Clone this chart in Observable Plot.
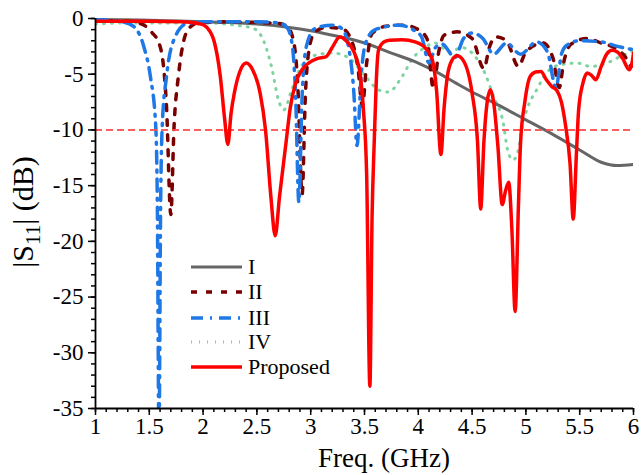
<!DOCTYPE html>
<html><head><meta charset="utf-8">
<script src="https://cdn.jsdelivr.net/npm/d3@7"></script>
<script src="https://cdn.jsdelivr.net/npm/@observablehq/plot@0.6"></script>
<style>
html,body{margin:0;padding:0;background:#fff;}
#wrap{position:relative;width:641px;height:475px;font-family:"Liberation Serif","Times New Roman",serif;}
#legend{position:absolute;left:186px;top:254px;}
</style></head>
<body><div id="wrap"><div id="chart"></div><svg id="legend" width="170" height="126"></svg></div>
<script>
// ---- data ----
const seriesNames = ["I","II","III","IV","Proposed"];

const freqI = [1,1.5,2,2.5,2.8,3,3.25,3.5,3.75,4,4.15,4.35,4.5,4.75,5,5.25,5.5,5.7,5.85,6];
const s11I  = [-0.1,-0.15,-0.3,-0.5,-0.8,-1.1,-1.6,-2.2,-3.1,-4.0,-4.7,-5.8,-6.6,-7.8,-9.1,-10.4,-11.8,-12.9,-13.2,-13.1];

const freqII = [1,1.3,1.43,1.52,1.6,1.66,1.7,1.73,1.77,1.82,1.86,1.95,2.2,2.5,2.7,2.78,2.84,2.88,2.92,2.95,2.99,3.04,3.15,3.29,3.38,3.44,3.48,3.52,3.57,3.7,3.86,4.0,4.08,4.14,4.19,4.24,4.36,4.5,4.61,4.66,4.72,4.82,4.93,5.0,5.16,5.25,5.31,5.35,5.42,5.57,5.7,5.82,5.92,5.98,6];
const s11II  = [-0.2,-0.25,-0.5,-1.2,-2.5,-7.9,-17.6,-9.7,-5.2,-2,-1.0,-0.4,-0.3,-0.35,-0.45,-0.7,-2,-6,-15.8,-7,-2.5,-1.2,-0.8,-0.9,-2,-4.5,-7.9,-4,-1.35,-0.7,-0.6,-1.0,-1.8,-6.3,-3,-1.5,-1.2,-1.8,-4.5,-2.6,-1.65,-2,-4.3,-3.0,-2.2,-3.5,-6.2,-4.0,-2.3,-1.8,-2.2,-2.6,-3.4,-4.3,-4.0];

const freqIII = [1,1.25,1.36,1.45,1.51,1.56,1.575,1.59,1.605,1.62,1.66,1.74,1.85,2,2.5,2.7,2.78,2.83,2.86,2.89,2.92,2.96,3.04,3.2,3.29,3.36,3.4,3.43,3.47,3.51,3.6,3.82,3.95,4.03,4.1,4.16,4.22,4.34,4.42,4.5,4.6,4.7,4.82,4.95,5.1,5.2,5.28,5.33,5.38,5.5,5.7,5.85,6];
const s11III  = [-0.1,-0.3,-0.75,-2.55,-5.2,-9.7,-17,-38,-17,-9.7,-5.2,-1.65,-0.45,-0.3,-0.3,-0.4,-0.8,-2.5,-7,-16.5,-7,-2.5,-0.9,-0.6,-0.9,-3,-6.5,-11.4,-5,-2.2,-1.0,-0.6,-1.0,-1.65,-4.0,-2.6,-2.3,-3.5,-1.8,-1.3,-1.8,-3.2,-2.2,-3.2,-2.1,-3.0,-6.2,-3.2,-2.4,-2.0,-2.1,-2.5,-2.8];

const freqIV = [1,1.3,1.6,2,2.3,2.47,2.56,2.64,2.7,2.75,2.82,2.9,3.04,3.2,3.35,3.51,3.63,3.72,3.85,3.94,4.07,4.15,4.3,4.4,4.5,4.6,4.7,4.79,4.83,4.88,4.93,4.96,5.02,5.1,5.19,5.3,5.48,5.6,5.75,5.9,6];
const s11IV  = [-0.5,-0.4,-0.4,-0.4,-0.6,-0.9,-1.95,-4.5,-7.3,-8.2,-6.5,-4.5,-3.3,-3.1,-3.5,-5.2,-6.4,-6.6,-5.2,-3.7,-2.55,-2.2,-3.0,-2.6,-3.1,-4.5,-7.0,-9.4,-11.8,-12.7,-11.8,-10,-7.9,-6.4,-4.9,-4.2,-4.0,-4.3,-4.0,-3.3,-2.9];

const freqP = [1,1.5,1.8,1.95,2.01,2.06,2.1,2.16,2.2,2.23,2.26,2.29,2.34,2.4,2.46,2.53,2.58,2.63,2.67,2.71,2.77,2.81,2.86,2.92,2.98,3.06,3.14,3.2,3.27,3.33,3.42,3.46,3.49,3.52,3.55,3.57,3.59,3.61,3.63,3.68,3.73,3.85,3.97,4.07,4.13,4.17,4.21,4.24,4.27,4.31,4.36,4.42,4.5,4.55,4.58,4.61,4.64,4.67,4.7,4.74,4.78,4.81,4.84,4.87,4.9,4.93,4.95,4.99,5.04,5.09,5.14,5.19,5.24,5.29,5.33,5.37,5.41,5.44,5.47,5.49,5.53,5.57,5.61,5.65,5.7,5.75,5.8,5.85,5.9,5.96,5.99,6];
const s11P  = [-0.25,-0.25,-0.3,-0.45,-0.6,-1.1,-1.95,-5.2,-9,-11.3,-8.5,-6.7,-4.8,-4.0,-4.6,-6.7,-10,-16,-19.5,-16,-11.2,-8,-5.8,-4.6,-4.0,-3.6,-3.45,-2.6,-1.65,-2,-3.45,-5,-8.2,-14,-33,-18,-11.2,-5.5,-2.85,-2.1,-1.95,-1.9,-2.1,-2.7,-3.7,-6.5,-12.2,-8,-5.2,-3.8,-3.35,-3.8,-6.7,-11,-17.1,-11,-7.5,-6.4,-7.5,-11.5,-16.7,-15.5,-14.7,-19,-26.3,-17,-11.2,-7.5,-5.2,-4.8,-4.75,-5.5,-6.1,-6.5,-7.5,-9.7,-13,-18,-12,-8.2,-5.8,-4.9,-5.1,-5.5,-4.3,-3.2,-2.85,-3.0,-3.6,-4.6,-3.8,-3.1];

const refLevel = [-10];
const xMajor = [1,1.5,2,2.5,3,3.5,4,4.5,5,5.5,6];
const xTickLabels = ["1","1.5","2","2.5","3","3.5","4","4.5","5","5.5","6"];
const yMajor = [0,-5,-10,-15,-20,-25,-30,-35];
const yTickLabels = ["0","-5","-10","-15","-20","-25","-30","-35"];
const xMinor = d3.range(10,61).map(v => v/10);
const yMinor = d3.range(-35,1);

// ---- styles ----
const styles = {
  "I":        {stroke:"#666666", width:3,   dash:null},
  "II":       {stroke:"#7a0000", width:3.5, dash:"6,9"},
  "III":      {stroke:"#1e78e6", width:3.5, dash:"12,7,2,7"},
  "IV":       {stroke:"#7fd3a0", width:3,   dash:"1,7"},
  "Proposed": {stroke:"#ff0000", width:3.5, dash:null}
};
const rows = (fx, fy) => fx.map((f,i) => ({f, v: fy[i]}));
const sets = {
  "I": rows(freqI, s11I), "II": rows(freqII, s11II), "III": rows(freqIII, s11III),
  "IV": rows(freqIV, s11IV), "Proposed": rows(freqP, s11P)
};
const lineMark = name => Plot.line(sets[name], {
  x:"f", y:"v", stroke: styles[name].stroke, strokeWidth: styles[name].width,
  strokeDasharray: styles[name].dash, curve:"monotone-x", clip:true
});

const chart = Plot.plot({
  width:641, height:475,
  marginLeft:95, marginRight:8, marginTop:18, marginBottom:67,
  style:{fontFamily:'"Liberation Serif","Times New Roman",serif', fontSize:"23px", color:"#000", background:"#fff", overflow:"visible"},
  x:{domain:[1,6]},
  y:{domain:[-35,0]},
  marks:[
    lineMark("IV"),
    lineMark("I"),
    lineMark("II"),
    lineMark("III"),
    Plot.ruleY(refLevel, {stroke:"#ff4d4d", strokeWidth:2, strokeDasharray:"7,4", strokeOpacity:0.9}),
    lineMark("Proposed"),
    Plot.axisX(xMinor, {tickSize:4, tickFormat:() => "", label:null, strokeWidth:1.5}),
    Plot.axisX(xMajor, {tickSize:7, tickPadding:2, tickFormat: d => xTickLabels[xMajor.indexOf(d)], label:null, strokeWidth:1.5, fontSize:23}),
    Plot.axisY(yMinor, {tickSize:4, tickFormat:() => "", label:null, strokeWidth:1.5}),
    Plot.axisY(yMajor, {tickSize:7, tickPadding:5, tickFormat: d => yTickLabels[yMajor.indexOf(d)], label:null, strokeWidth:1.5, fontSize:23}),
    Plot.ruleX([1], {stroke:"#000", strokeWidth:1.8}),
    Plot.ruleY([-35], {stroke:"#000", strokeWidth:1.8})
  ]
});
document.getElementById("chart").appendChild(chart);

// axis titles
const svg = d3.select(chart);
svg.append("text").attr("x", 384).attr("y", 467).attr("text-anchor","middle")
  .attr("font-size", 27).attr("fill","#000").text("Freq. (GHz)");
const yl = svg.append("text").attr("transform","translate(33,212) rotate(-90)")
  .attr("text-anchor","middle").attr("font-size",30).attr("fill","#000");
yl.append("tspan").text("|S");
yl.append("tspan").attr("font-size",21).attr("dy",7).text("11");
yl.append("tspan").attr("dy",-7).text("| (dB)");

// legend
const lg = d3.select("#legend");
seriesNames.forEach((name,i) => {
  const y = [13,38,64,88,113][i];
  lg.append("line").attr("x1",5).attr("x2",56).attr("y1",y).attr("y2",y)
    .attr("stroke", styles[name].stroke).attr("stroke-width", styles[name].width)
    .attr("stroke-dasharray", styles[name].dash);
  lg.append("text").attr("x",62).attr("y",y+7).attr("font-size",22)
    .attr("font-family",'"Liberation Serif","Times New Roman",serif').attr("fill","#000").text(name);
});
</script></body></html>
